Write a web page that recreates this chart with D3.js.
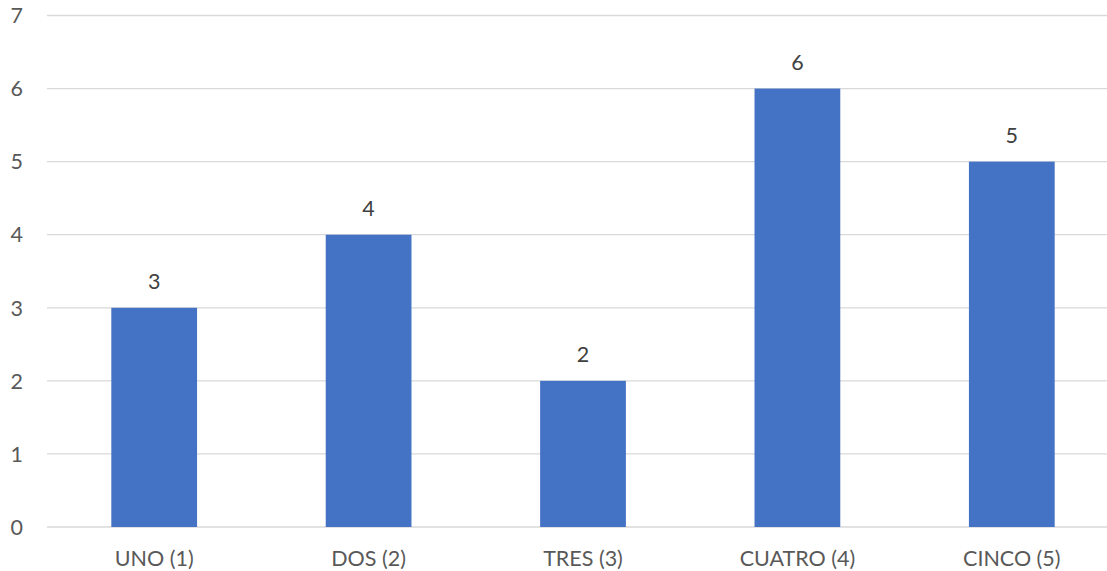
<!DOCTYPE html>
<html><head><meta charset="utf-8">
<script src="https://cdn.jsdelivr.net/npm/d3@7"></script>
<style>body{margin:0;background:#fff;}svg{display:block;}</style>
</head><body>
<svg id="c" width="1107" height="571"></svg>
<script>
const categories = ["UNO (1)", "DOS (2)", "TRES (3)", "CUATRO (4)", "CINCO (5)"];
const values = [3, 4, 2, 6, 5];
const yTicks = [0, 1, 2, 3, 4, 5, 6, 7];

const svg = d3.select("#c");
const mLeft = 47, mRight = 1119, mTop = 15.5, mBottom = 527;
const font = "Lato, 'Open Sans', sans-serif";
const fs = "21.5px";

const x = d3.scaleBand().domain(categories).range([mLeft, mRight]).paddingInner(0.6).paddingOuter(0.3);
const y = d3.scaleLinear().domain([0, 7]).range([mBottom, mTop]);

svg.append("g").selectAll("line").data(yTicks).join("line")
  .attr("x1", mLeft).attr("x2", 1107)
  .attr("y1", d => y(d)).attr("y2", d => y(d))
  .attr("stroke", "#d9d9d9").attr("stroke-width", 1.3);

svg.append("g").selectAll("text").data(yTicks).join("text")
  .attr("x", 23).attr("y", d => y(d)).attr("dy", "0.36em")
  .attr("text-anchor", "end").attr("fill", "#595959")
  .style("font-family", font).style("font-size", fs)
  .text(d => d);

svg.append("g").selectAll("rect").data(values).join("rect")
  .attr("x", (d, i) => x(categories[i])).attr("width", x.bandwidth())
  .attr("y", d => y(d)).attr("height", d => y(0) - y(d))
  .attr("fill", "#4472c4");

svg.append("g").selectAll("text").data(values).join("text")
  .attr("x", (d, i) => x(categories[i]) + x.bandwidth() / 2)
  .attr("y", d => y(d) - 26.5).attr("dy", "0.36em")
  .attr("text-anchor", "middle").attr("fill", "#404040")
  .style("font-family", font).style("font-size", fs)
  .text(d => d);

svg.append("g").selectAll("text").data(categories).join("text")
  .attr("x", d => x(d) + x.bandwidth() / 2).attr("y", 558.5).attr("dy", "0.36em")
  .attr("text-anchor", "middle").attr("fill", "#595959")
  .style("font-family", font).style("font-size", fs)
  .text(d => d);
</script>
</body></html>
